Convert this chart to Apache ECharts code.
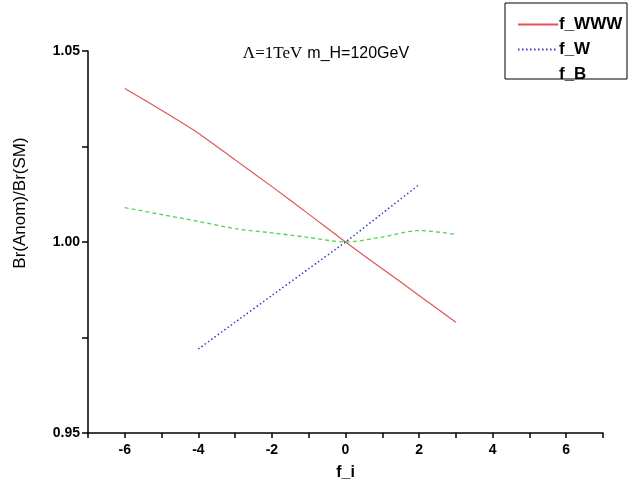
<!DOCTYPE html>
<html>
<head>
<meta charset="utf-8">
<script src="https://cdn.jsdelivr.net/npm/echarts@6/dist/echarts.min.js"></script>
<style>
  html, body { margin: 0; padding: 0; background: #fff; }
  #chart { width: 628px; height: 490px; }
</style>
</head>
<body>
<div id="chart"></div>
<script>
// f_i values and Br(Anom)/Br(SM)
const fiWWW = [-6, -5, -4, -3, -2, -1, 0, 1, 2, 3];
const brWWW = [1.0402, 1.0345, 1.0285, 1.0215, 1.0145, 1.0073, 1.000, 0.993, 0.986, 0.979];

const fiW = [-4, -3, -2, -1, 0, 1, 2];
const brW = [0.972, 0.979, 0.986, 0.993, 1.000, 1.0075, 1.015];

const fiB = [-6, -5, -4, -3, -2, -1, 0, 1, 2, 3];
const brB = [1.0090, 1.0072, 1.0054, 1.0035, 1.0024, 1.0012, 1.000, 1.0013, 1.003, 1.002];

const xLabels = [-6, -4, -2, 0, 2, 4, 6];
const yLabels = [0.95, 1.00, 1.05];

function pairs(xs, ys) {
  return xs.map((x, i) => [x, ys[i]]);
}

const chart = echarts.init(document.getElementById('chart'));

const font = 'Liberation Sans, Arial, sans-serif';

chart.setOption({
  backgroundColor: '#fff',
  animation: false,
  grid: { left: 88, right: 25, top: 51, bottom: 57 },
  title: {
    text: '{a|\u039b=1TeV} {b|m_H=120GeV}',
    left: 321,
    top: 40,
    textAlign: 'center',
    textStyle: {
      fontWeight: 'normal',
      rich: {
        a: { fontFamily: 'Liberation Serif, Times New Roman, serif', fontSize: 17, fontWeight: 'normal', color: '#000' },
        b: { fontFamily: font, fontSize: 16, fontWeight: 'normal', color: '#000' }
      }
    }
  },
  legend: {
    orient: 'vertical',
    left: 512,
    top: 11,
    itemWidth: 40,
    itemHeight: 10,
    itemGap: 8,
    itemStyle: { opacity: 0 },
    textStyle: { fontFamily: font, fontSize: 17, fontWeight: 'bold', color: '#000', padding: [0, 0, 0, -4] },
    data: [
      { name: 'f_WWW' },
      { name: 'f_W' },
      { name: 'f_B', lineStyle: { opacity: 0 } }
    ]
  },
  graphic: [
    {
      type: 'rect',
      shape: { x: 505, y: 3, width: 122, height: 76 },
      style: { fill: 'none', stroke: '#000', lineWidth: 1 }
    },
    {
      type: 'text',
      x: 20, y: 203,
      rotation: Math.PI / 2,
      style: {
        text: 'Br(Anom)/Br(SM)',
        fontFamily: font,
        fontSize: 17,
        fill: '#000',
        align: 'center',
        verticalAlign: 'middle'
      }
    }
  ],
  xAxis: {
    type: 'value',
    min: -7,
    max: 7,
    interval: 1,
    name: 'f_i',
    nameLocation: 'middle',
    nameGap: 32,
    nameTextStyle: { fontFamily: font, fontSize: 16, fontWeight: 'bold', color: '#000' },
    axisLine: { onZero: false, lineStyle: { color: '#000', width: 1.5 } },
    axisTick: { inside: false, length: 5, lineStyle: { color: '#000', width: 1.5 } },
    axisLabel: {
      fontFamily: font, fontSize: 14, fontWeight: 'bold', color: '#000', margin: 10,
      formatter: v => xLabels.indexOf(v) >= 0 ? String(v) : ''
    },
    splitLine: { show: false }
  },
  yAxis: {
    type: 'value',
    min: 0.95,
    max: 1.05,
    interval: 0.025,
    axisLine: { show: true, onZero: false, lineStyle: { color: '#000', width: 1.5 } },
    axisTick: { show: true, inside: false, length: 6, lineStyle: { color: '#000', width: 1.5 } },
    axisLabel: {
      fontFamily: font, fontSize: 14, fontWeight: 'bold', color: '#000', margin: 8,
      formatter: v => {
        const r = Math.round(v * 1000) / 1000;
        return yLabels.some(l => Math.abs(l - r) < 1e-6) ? r.toFixed(2) : '';
      }
    },
    splitLine: { show: false }
  },
  series: [
    {
      name: 'f_WWW',
      type: 'line',
      data: pairs(fiWWW, brWWW),
      symbol: 'none',
      smooth: 0.2,
      color: '#e05555',
      lineStyle: { color: '#e05555', width: 1.2, type: 'solid' }
    },
    {
      name: 'f_W',
      type: 'line',
      data: pairs(fiW, brW),
      symbol: 'none',
      smooth: 0.2,
      color: '#3535c8',
      lineStyle: { color: '#3535c8', width: 1.5, type: [1.5, 2.5] }
    },
    {
      name: 'f_B',
      type: 'line',
      data: pairs(fiB, brB),
      symbol: 'none',
      smooth: 0.3,
      color: '#4fd64f',
      lineStyle: { color: '#4fd64f', width: 1.3, type: [4, 3] }
    }
  ]
});
</script>
</body>
</html>
